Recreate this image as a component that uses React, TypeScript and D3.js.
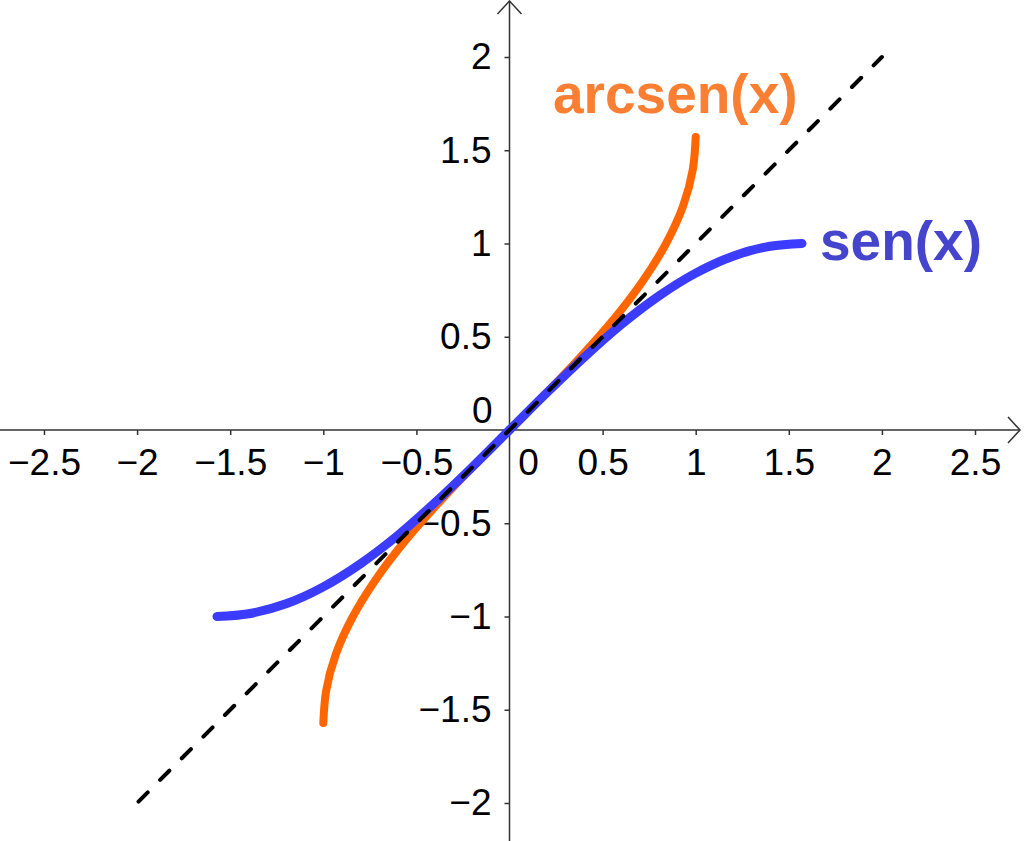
import { useEffect, useRef } from "react";
import * as d3 from "d3";

const WIDTH = 1024;
const HEIGHT = 841;

// tick labels on the axes (0 is drawn on its own near the origin)
const xTicks = [-2.5, -2, -1.5, -1, -0.5, 0.5, 1, 1.5, 2, 2.5];
const yTicks = [-2, -1.5, -1, -0.5, 0.5, 1, 1.5, 2];

// sen(x)
const senX = [-1.571, -1.4, -1.2, -1.0, -0.8, -0.6, -0.4, -0.2, 0, 0.2, 0.4, 0.6, 0.8, 1.0, 1.2, 1.4, 1.571];
const senY = [-1, -0.985, -0.932, -0.841, -0.717, -0.565, -0.389, -0.199, 0, 0.199, 0.389, 0.565, 0.717, 0.841, 0.932, 0.985, 1];

// arcsen(x)
const arcX = [-1, -0.985, -0.932, -0.841, -0.717, -0.565, -0.389, -0.199, 0, 0.199, 0.389, 0.565, 0.717, 0.841, 0.932, 0.985, 1];
const arcY = [-1.571, -1.4, -1.2, -1.0, -0.8, -0.6, -0.4, -0.2, 0, 0.2, 0.4, 0.6, 0.8, 1.0, 1.2, 1.4, 1.571];

// dashed identity line y = x
const diagX = [-2, 2];
const diagY = [-2, 2];

const FONT = "'Liberation Sans', Arial, sans-serif";
const AXIS_COLOR = "#333333";

type Pt = [number, number];

export default function App() {
  const xAxisRef = useRef<SVGGElement>(null);
  const yAxisRef = useRef<SVGGElement>(null);

  const x = d3.scaleLinear().domain([-2.5, 2.5]).range([44, 975]);
  const y = d3.scaleLinear().domain([-2, 2]).range([803, 57]);

  const x0 = x(0);
  const y0 = y(0);

  useEffect(() => {
    const gx = d3.select(xAxisRef.current);
    gx.selectAll("*").remove();
    gx.call(
      d3
        .axisBottom(x)
        .tickValues(xTicks)
        .tickSize(5)
        .tickPadding(14)
        .tickFormat((d) => d3.format("")(d as number))
    );
    gx.select(".domain").remove();

    const gy = d3.select(yAxisRef.current);
    gy.selectAll("*").remove();
    gy.call(
      d3
        .axisLeft(y)
        .tickValues(yTicks)
        .tickSize(5)
        .tickPadding(13)
        .tickFormat((d) => d3.format("")(d as number))
    );
    gy.select(".domain").remove();

    [gx, gy].forEach((g) => {
      g.selectAll("line").attr("stroke", AXIS_COLOR).attr("stroke-width", 1.5);
      g.selectAll("text")
        .attr("fill", "#000")
        .style("font-family", FONT)
        .style("font-size", "37px");
    });
  }, []);

  const line = d3
    .line<Pt>()
    .x((d) => x(d[0]))
    .y((d) => y(d[1]));

  const senPath = line.curve(d3.curveMonotoneX)(senX.map((v, i) => [v, senY[i]] as Pt)) || "";
  const arcPath = line.curve(d3.curveMonotoneY)(arcX.map((v, i) => [v, arcY[i]] as Pt)) || "";
  const diagPath = line.curve(d3.curveLinear)(diagX.map((v, i) => [v, diagY[i]] as Pt)) || "";

  const xEnd = WIDTH - 4;
  const yTop = 1;

  return (
    <svg
      width={WIDTH}
      height={HEIGHT}
      style={{ position: "absolute", left: 0, top: 0, background: "#fff" }}
    >
      {/* axes */}
      <line x1={0} x2={xEnd} y1={y0} y2={y0} stroke={AXIS_COLOR} strokeWidth={1.5} />
      <polyline
        points={`${xEnd - 12},${y0 - 13} ${xEnd},${y0} ${xEnd - 12},${y0 + 13}`}
        fill="none"
        stroke={AXIS_COLOR}
        strokeWidth={1.5}
      />
      <line x1={x0} x2={x0} y1={yTop} y2={HEIGHT} stroke={AXIS_COLOR} strokeWidth={1.5} />
      <polyline
        points={`${x0 - 12},${yTop + 13} ${x0},${yTop} ${x0 + 12},${yTop + 13}`}
        fill="none"
        stroke={AXIS_COLOR}
        strokeWidth={1.5}
      />
      <g ref={xAxisRef} transform={`translate(0,${y0})`} />
      <g ref={yAxisRef} transform={`translate(${x0},0)`} />
      <text x={x0 - 17} y={y0 - 7} textAnchor="end" fontFamily={FONT} fontSize={37}>
        0
      </text>
      <text x={x0 + 19} y={y0 + 45} textAnchor="middle" fontFamily={FONT} fontSize={37}>
        0
      </text>

      {/* curves */}
      <path d={arcPath} fill="none" stroke="#ff6600" strokeWidth={8} strokeLinecap="round" />
      <path d={senPath} fill="none" stroke="#3c3cff" strokeWidth={9} strokeLinecap="round" />
      <path
        d={diagPath}
        fill="none"
        stroke="#000"
        strokeWidth={4}
        strokeDasharray="13,17.6"
        strokeDashoffset={-2}
        strokeLinecap="round"
      />

      {/* labels */}
      <text x={553} y={113} fontFamily={FONT} fontWeight="bold" fontSize={55} fill="#fa7f33">
        arcsen(x)
      </text>
      <text x={820} y={260} fontFamily={FONT} fontWeight="bold" fontSize={55} fill="#4444cc">
        sen(x)
      </text>
    </svg>
  );
}
